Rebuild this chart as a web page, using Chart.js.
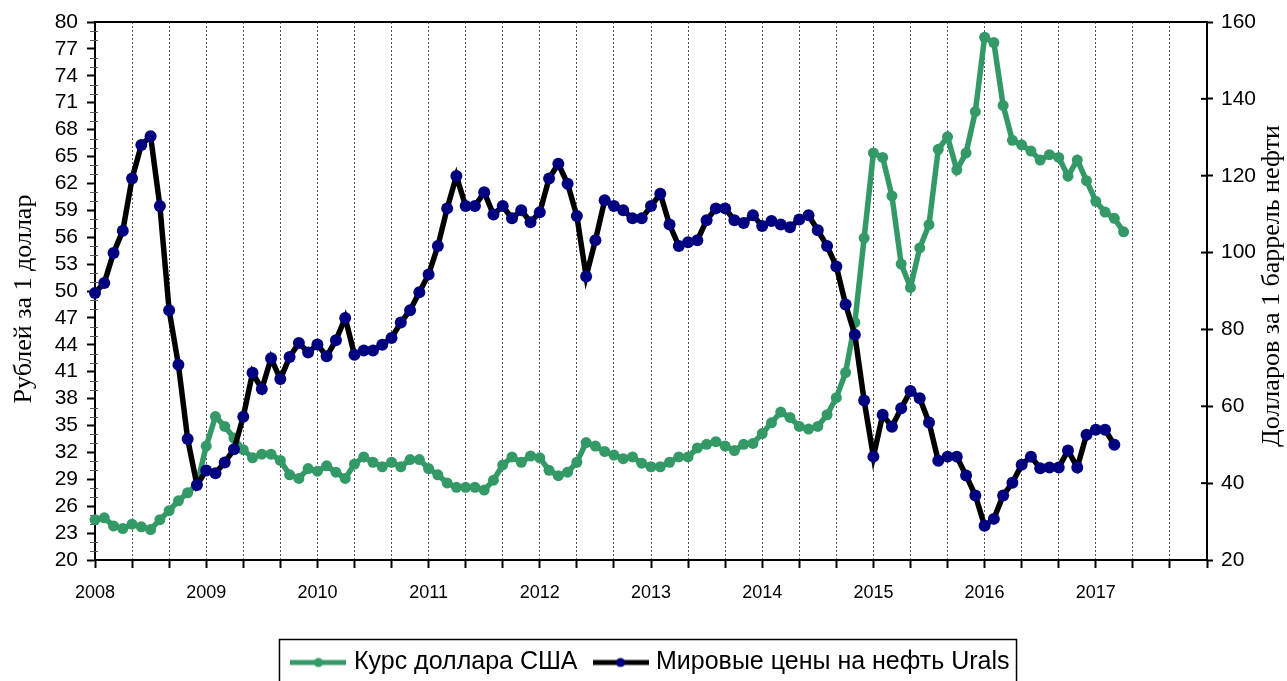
<!DOCTYPE html>
<html>
<head>
<meta charset="utf-8">
<script src="https://cdn.jsdelivr.net/npm/chart.js@4/dist/chart.umd.min.js"></script>
<style>
  html, body { margin: 0; padding: 0; overflow: hidden; background: #fff; }
  canvas { display: block; }
</style>
</head>
<body>
<canvas id="c" width="1287" height="685"></canvas>
<script>
// ---- data ----
const years = [2008, 2009, 2010, 2011, 2012, 2013, 2014, 2015, 2016, 2017, 2018];
const seriesNames = ['Курс доллара США', 'Мировые цены на нефть Urals'];
const leftTitle = 'Рублей за 1 доллар';
const rightTitle = 'Долларов за 1 баррель нефти';

// monthly USD/RUB rate, Jan 2008 .. Apr 2017
const usdRub = [
  24.5, 24.7, 23.8, 23.5, 24.0, 23.7, 23.4, 24.5, 25.5, 26.6, 27.5, 28.4,
  32.7, 36.0, 34.9, 33.6, 32.3, 31.4, 31.8, 31.8, 31.1, 29.5, 29.1, 30.2,
  29.9, 30.5, 29.8, 29.1, 30.7, 31.5, 30.9, 30.4, 30.9, 30.4, 31.2, 31.2,
  30.2, 29.5, 28.6, 28.1, 28.1, 28.1, 27.8, 28.9, 30.6, 31.5, 30.9, 31.6,
  31.4, 30.0, 29.4, 29.8, 30.9, 33.1, 32.7, 32.1, 31.7, 31.3, 31.5, 30.8,
  30.4, 30.4, 30.9, 31.5, 31.5, 32.5, 32.9, 33.2, 32.7, 32.2, 32.9, 33.0,
  34.1, 35.3, 36.5, 35.9, 34.9, 34.6, 34.9, 36.2, 38.1, 40.9, 46.5, 55.9,
  65.4, 64.9, 60.6, 53.0, 50.4, 54.8, 57.4, 65.8, 67.2, 63.5, 65.4, 70.0,
  78.3, 77.7, 70.7, 66.8, 66.3, 65.6, 64.6, 65.2, 64.9, 62.8, 64.6, 62.3,
  60.0, 58.8, 58.1, 56.6
];
// monthly Urals price, Jan 2008 .. Mar 2017
const urals = [
  89.5, 92.1, 99.9, 105.7, 119.3, 128.0, 130.3, 112.1, 85.0, 70.8, 51.5, 39.5,
  43.3, 42.6, 45.4, 48.8, 57.3, 68.7, 64.5, 72.5, 67.1, 72.8, 76.5, 74.0,
  76.1, 73.0, 77.2, 83.0, 73.4, 74.5, 74.5, 76.0, 77.8, 81.8, 85.0, 89.7,
  94.3, 101.7, 111.5, 119.9, 112.1, 112.1, 115.7, 109.9, 112.1, 108.9, 111.0, 107.9,
  110.5, 119.3, 123.1, 117.9, 109.5, 93.8, 103.2, 113.6, 112.1, 111.0, 108.9, 108.9,
  112.1, 115.3, 107.3, 101.7, 102.7, 103.2, 108.4, 111.5, 111.5, 108.4, 107.7, 109.7,
  106.9, 108.2, 107.3, 106.6, 108.6, 109.7, 105.8, 101.7, 96.4, 86.5, 78.6, 61.5,
  46.9, 57.8, 54.7, 59.5, 64.0, 62.1, 55.8, 45.8, 46.9, 46.9, 42.0, 36.8,
  28.9, 30.7, 36.8, 40.1, 44.8, 46.9, 43.9, 44.1, 44.1, 48.5, 44.1, 52.6,
  53.9, 53.9, 50.0
];

// month categories Jan 2008 .. Jan 2018
const months = [];
years.forEach((y, yi) => {
  const n = yi === years.length - 1 ? 1 : 12;
  for (let m = 1; m <= n; m++) months.push(y + '-' + String(m).padStart(2, '0'));
});

const GREEN = '#339966';
const NAVY = '#000080';
const SANS = "'Liberation Sans', Arial, sans-serif";
const SERIF = "'Liberation Serif', 'Times New Roman', serif";

function legendImage(lineColor, dotColor) {
  const c = document.createElement('canvas');
  c.width = 56; c.height = 14;
  const g = c.getContext('2d');
  g.strokeStyle = lineColor; g.lineWidth = 5;
  g.beginPath(); g.moveTo(0, 7); g.lineTo(56, 7); g.stroke();
  g.fillStyle = dotColor;
  g.beginPath(); g.arc(28, 7, 4.5, 0, Math.PI * 2); g.fill();
  return c;
}
const legendImgs = [legendImage(GREEN, GREEN), legendImage('#000', NAVY)];

const decor = {
  id: 'decor',
  beforeDatasetsDraw(chart) {
    const ctx = chart.ctx, a = chart.chartArea;
    const yl = chart.scales.y, yr = chart.scales.y1;
    ctx.save();
    // top frame line
    ctx.strokeStyle = '#000'; ctx.lineWidth = 2;
    ctx.beginPath(); ctx.moveTo(a.left, a.top); ctx.lineTo(a.right, a.top); ctx.stroke();
    // minor ticks on left axis
    ctx.strokeStyle = '#555'; ctx.lineWidth = 1;
    for (let v = yl.min; v <= yl.max; v++) {
      if ((v - yl.min) % 3 === 0) continue;
      const y = Math.round(yl.getPixelForValue(v)) + 0.5;
      ctx.beginPath(); ctx.moveTo(a.left - 5, y); ctx.lineTo(a.left + 3, y); ctx.stroke();
    }
    // inner parts of right axis major ticks
    ctx.strokeStyle = '#000'; ctx.lineWidth = 2;
    yr.ticks.forEach(t => {
      const y = yr.getPixelForValue(t.value);
      ctx.beginPath(); ctx.moveTo(a.right - 6, y); ctx.lineTo(a.right, y); ctx.stroke();
    });
    ctx.restore();
  },
  afterDraw(chart) {
    const ctx = chart.ctx;
    ctx.save();
    ctx.fillStyle = '#000';
    ctx.font = '26px ' + SERIF;
    ctx.textAlign = 'center'; ctx.textBaseline = 'middle';
    ctx.translate(24, 299); ctx.rotate(-Math.PI / 2);
    ctx.fillText(leftTitle, 0, 0);
    ctx.restore();
    ctx.save();
    ctx.fillStyle = '#000';
    ctx.font = '26px ' + SERIF;
    ctx.textAlign = 'center'; ctx.textBaseline = 'middle';
    ctx.translate(1272, 286); ctx.rotate(-Math.PI / 2);
    ctx.fillText(rightTitle, 0, 0);
    ctx.restore();
    // legend frame
    const lg = chart.legend;
    if (lg && lg.legendHitBoxes && lg.legendHitBoxes.length) {
      const hb = lg.legendHitBoxes;
      const first = hb[0], last = hb[hb.length - 1];
      const cy = first.top + first.height / 2;
      ctx.save();
      ctx.strokeStyle = '#000'; ctx.lineWidth = 1.5;
      ctx.strokeRect(first.left - 16, cy - 23, last.left + last.width + 7 - (first.left - 16), 60);
      ctx.restore();
    }
  }
};

new Chart(document.getElementById('c'), {
  type: 'line',
  data: {
    labels: months,
    datasets: [
      {
        label: seriesNames[0], data: usdRub, yAxisID: 'y', order: 1,
        borderColor: GREEN, backgroundColor: GREEN, borderWidth: 5.5,
        pointRadius: 5.5, pointBackgroundColor: GREEN, pointBorderColor: GREEN, pointBorderWidth: 0,
        tension: 0, clip: false
      },
      {
        label: seriesNames[1], data: urals, yAxisID: 'y1', order: 0,
        borderColor: '#000', backgroundColor: NAVY, borderWidth: 5.5,
        pointRadius: 6, pointBackgroundColor: NAVY, pointBorderColor: NAVY, pointBorderWidth: 0,
        tension: 0, clip: false
      }
    ]
  },
  options: {
    responsive: false,
    animation: false,
    devicePixelRatio: 1,
    layout: { padding: { top: 22, left: 18, right: 0, bottom: 0 } },
    plugins: {
      tooltip: { enabled: false },
      legend: {
        position: 'bottom',
        labels: {
          usePointStyle: true,
          pointStyleWidth: 46,
          padding: 20,
          color: '#000',
          font: { family: SANS, size: 25 },
          generateLabels: (chart) => chart.data.datasets.map((ds, i) => ({
            text: ds.label, pointStyle: legendImgs[i], fillStyle: ds.borderColor,
            strokeStyle: ds.borderColor, lineWidth: 0, hidden: false, datasetIndex: i, fontColor: '#000'
          }))
        }
      }
    },
    scales: {
      x: {
        type: 'category',
        offset: false,
        grid: {
          drawOnChartArea: true,
          color: (c) => (c.index % 4 === 0 ? '#555' : 'rgba(0,0,0,0)'),
          lineWidth: 1,
          tickLength: 8,
          tickWidth: 2,
          tickColor: (c) => (c.index % 4 === 0 ? '#000' : 'rgba(0,0,0,0)'),
          tickBorderDash: []
        },
        border: { display: true, color: '#000', width: 2, dash: [2, 2] },
        ticks: {
          autoSkip: false, maxRotation: 0, minRotation: 0, padding: 14,
          color: '#000', font: { family: SANS, size: 18 },
          callback: (v, i) => (i % 12 === 0 && i < months.length - 1 ? months[i].slice(0, 4) : '')
        },
        afterFit: (s) => { s.height = 70; }
      },
      y: {
        type: 'linear', position: 'left', min: 20, max: 80,
        grid: { drawOnChartArea: false, tickLength: 8, tickWidth: 2, tickColor: '#000' },
        border: { display: true, color: '#000', width: 2 },
        ticks: { stepSize: 3, autoSkip: false, padding: 9, color: '#000', font: { family: SANS, size: 21 } },
        afterFit: (s) => { s.width = 77; }
      },
      y1: {
        type: 'linear', position: 'right', min: 20, max: 160,
        grid: { drawOnChartArea: false, tickLength: 6, tickWidth: 2, tickColor: '#000' },
        border: { display: true, color: '#000', width: 2 },
        ticks: { stepSize: 20, autoSkip: false, padding: 8, color: '#000', font: { family: SANS, size: 21 } },
        afterFit: (s) => { s.width = 80; }
      }
    }
  },
  plugins: [decor]
});
</script>
</body>
</html>
